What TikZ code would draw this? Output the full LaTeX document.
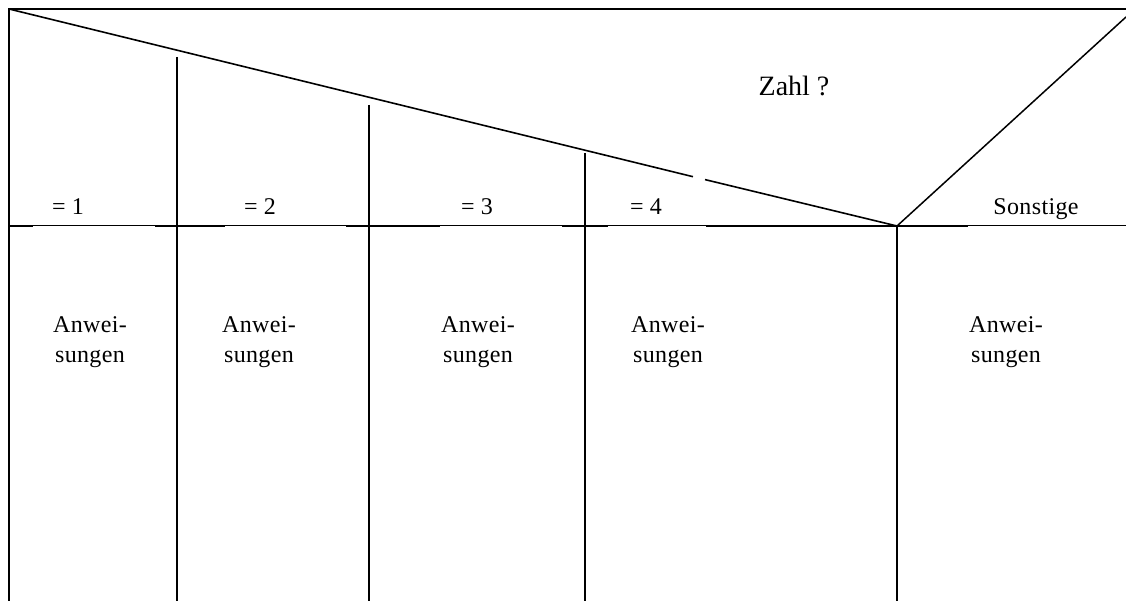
\documentclass[tikz,border=0pt]{standalone}
\usepackage{fontspec}
\setmainfont{Liberation Serif}
\begin{document}
\begin{tikzpicture}[x=1pt,y=-1pt,
  thickline/.style={line width=1.8pt,line cap=rect},
  thinline/.style={line width=1pt},
  lbl/.style={inner sep=0pt,anchor=base,font=\fontsize{24}{29}\selectfont\addfontfeatures{LetterSpace=1.5}},
  body/.style={inner sep=0pt,align=center,font=\fontsize{24}{30}\selectfont\addfontfeatures{LetterSpace=1.5}}]
\useasboundingbox (0,0) rectangle (1126,601);
% corner coordinates
\coordinate (tl) at (9,9);
\coordinate (tr) at (1126,9);
\coordinate (bl) at (9,601);
\coordinate (apex) at (897,226);
\coordinate (rtop) at (1126,17);
\coordinate (gapA) at (693,176.7);
\coordinate (gapB) at (705,179.6);
% vertical column tops/bottoms
\coordinate (v1t) at (177,57);  \coordinate (v1b) at (177,601);
\coordinate (v2t) at (369,105); \coordinate (v2b) at (369,601);
\coordinate (v3t) at (585,153); \coordinate (v3b) at (585,601);
\coordinate (v4b) at (897,601);
% horizontal line segment points
\foreach \n/\x in {h0/9,h1/33,h2/155,h3/225,h4/346,h5/440,h6/562,h7/608,h8/706,h9/968,h10/1126}
  \coordinate (\n) at (\x,226);
% frame
\draw[thickline] (bl) -- (tl) -- (tr);
% diagonals
\draw[line width=1.6pt] (tl) -- (gapA);
\draw[line width=1.6pt] (gapB) -- (apex);
\draw[line width=1.5pt] (apex) -- (rtop);
% verticals
\draw[thickline,line cap=butt] (v1t) -- (v1b);
\draw[thickline,line cap=butt] (v2t) -- (v2b);
\draw[thickline,line cap=butt] (v3t) -- (v3b);
\draw[thickline,line cap=butt] (apex) -- (v4b);
% horizontal separator
\draw[thickline,line cap=butt] (h0) -- (h1);
\draw[thinline] (h1) -- (h2);
\draw[thickline,line cap=butt] (h2) -- (h3);
\draw[thinline] (h3) -- (h4);
\draw[thickline,line cap=butt] (h4) -- (h5);
\draw[thinline] (h5) -- (h6);
\draw[thickline,line cap=butt] (h6) -- (h7);
\draw[thinline] (h7) -- (h8);
\draw[thickline,line cap=butt] (h8) -- (h9);
\draw[thinline] (h9) -- (h10);
% labels
\node[inner sep=0pt,anchor=base,font=\fontsize{28}{32}\selectfont] (zahl) at (794,96) {Zahl ?};
\node[lbl] (c1) at (68,215) {= 1};
\node[lbl] (c2) at (260,215) {= 2};
\node[lbl] (c3) at (477,215) {= 3};
\node[lbl] (c4) at (646,215) {= 4};
\node[lbl] (c5) at (1036,215) {Sonstige};
\node[body] (a1) at (90,342) {Anwei-\\sungen};
\node[body] (a2) at (259,342) {Anwei-\\sungen};
\node[body] (a3) at (478,342) {Anwei-\\sungen};
\node[body] (a4) at (668,342) {Anwei-\\sungen};
\node[body] (a5) at (1006,342) {Anwei-\\sungen};
\end{tikzpicture}
\end{document}
